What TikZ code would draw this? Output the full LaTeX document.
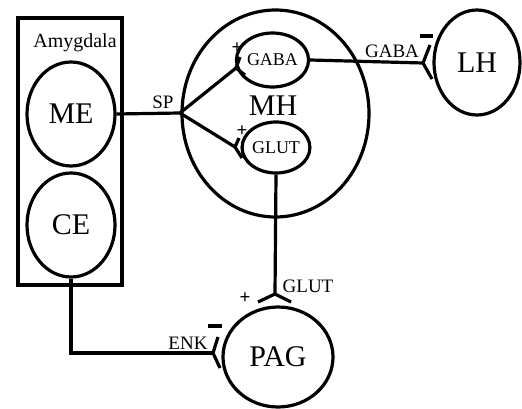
\documentclass[tikz,border=0pt]{standalone}
\usepackage{fontspec}
\setmainfont{Liberation Serif}
\usetikzlibrary{shapes.geometric}
\begin{document}
\begin{tikzpicture}[x=1pt,y=-1pt,
  line width=3.2pt,
  ell/.style={draw,ellipse,inner sep=0pt,font=\fontsize{30}{30}\selectfont},
  sm/.style={draw,ellipse,inner sep=0pt,font=\fontsize{18}{18}\selectfont},
  lbl/.style={inner sep=0pt,font=\fontsize{19}{19}\selectfont},
  pl/.style={inner sep=0pt,font=\fontsize{19}{19}\selectfont\bfseries}]
\useasboundingbox (0,0) rectangle (522,409);
% Amygdala box
\node[draw,minimum width=104pt,minimum height=267pt,inner sep=0pt] (amy) at (70,151.5) {};
\node[inner sep=0pt,font=\fontsize{20}{20}\selectfont] (amylbl) at (75,43) {Amygdala};
\node[ell,minimum width=88pt,minimum height=104pt] (ME) at (71,114) {ME};
\node[ell,minimum width=88pt,minimum height=104pt] (CE) at (71,225) {CE};
% MH
\node[draw,ellipse,minimum width=187pt,minimum height=207pt,inner sep=0pt] (MH) at (275.5,113.5) {};
\node[inner sep=0pt,font=\fontsize{30}{30}\selectfont] (MHl) at (273,106) {MH};
\node[sm,minimum width=61pt,minimum height=54pt] (GABAc) at (272.5,60) {GABA};
\node[sm,minimum width=62pt,minimum height=51pt] (GLUTc) at (276,147.5) {GLUT};
% LH, PAG
\node[ell,minimum width=86pt,minimum height=105pt] (LH) at (477,62.5) {LH};
\node[ell,minimum width=110pt,minimum height=100pt] (PAG) at (278,357) {PAG};
% coordinates
\coordinate (sp) at (180,113);
\coordinate (fA) at (236,68);
\coordinate (fB) at (235,147);
\coordinate (fC) at (423,63);
\coordinate (fD) at (275,294);
\coordinate (corner) at (71,353);
\coordinate (fE) at (213,353);
% connectors
\draw (ME.east) -- (sp);
\draw (sp) -- (fA);
\draw (sp) -- (fB);
\draw (fA) -- ++(4,-11);
\draw (fA) -- ++(9,7);
\draw (fB) -- ++(4,-9);
\draw (fB) -- ++(7,11);
\draw (GABAc.east) -- (fC);
\draw (fC) -- ++(7,-18);
\draw (fC) -- ++(9,16);
\draw (420,36) -- (433,36);
\draw (GLUTc.south) -- (fD);
\draw (fD) -- ++(-17,8);
\draw (fD) -- ++(16,8);
\draw (CE.south) -- (corner) -- (fE);
\draw (fE) -- ++(5,-16);
\draw (fE) -- ++(7,15);
\draw (208,326) -- (222,326);
% labels
\node[lbl] (SP) at (163,102) {SP};
\node[lbl] (GABAl) at (392,51) {GABA};
\node[lbl] (GLUTl) at (308,286) {GLUT};
\node[lbl] (ENK) at (188,343) {ENK};
\node[pl] (p1) at (237,48) {+};
\node[pl] (p2) at (242,131) {+};
\node[pl] (p3) at (245,298) {+};
\end{tikzpicture}
\end{document}
